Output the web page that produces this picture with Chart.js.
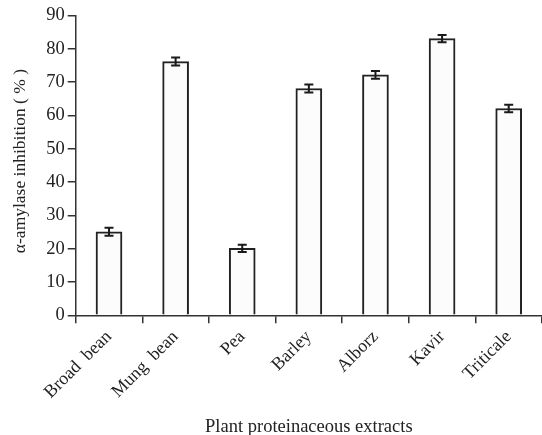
<!DOCTYPE html>
<html>
<head>
<meta charset="utf-8">
<script src="https://cdn.jsdelivr.net/npm/chart.js@4/dist/chart.umd.min.js"></script>
<style>
  html, body { margin: 0; padding: 0; background: #ffffff; }
  #wrap { width: 542px; height: 435px; position: relative; }
</style>
</head>
<body>
<div id="wrap"><canvas id="c"></canvas></div>
<script>
// Plant extracts and their alpha-amylase inhibition (%), mean ± error
const categories = ['Broad  bean', 'Mung  bean', 'Pea', 'Barley', 'Alborz', 'Kavir', 'Triticale'];
const inhibition = [25.1, 76.2, 20.1, 68.1, 72.2, 83.1, 62.1];
const errors = [1.2, 1.2, 1.1, 1.2, 1.2, 1.1, 1.1];
const yTicks = [0, 10, 20, 30, 40, 50, 60, 70, 80, 90];

const FONT = "'Liberation Serif', 'Times New Roman', serif";
const INK = '#222222';
const AXIS = '#333333';

// Draws the ± error whiskers with caps on top of each bar
const errorBars = {
  id: 'errorBars',
  afterDatasetsDraw(chart) {
    const meta = chart.getDatasetMeta(0);
    const y = chart.scales.y;
    const ctx = chart.ctx;
    ctx.save();
    ctx.strokeStyle = '#1a1a1a';
    ctx.lineWidth = 2;
    meta.data.forEach((bar, i) => {
      const v = inhibition[i], e = errors[i];
      const yHi = y.getPixelForValue(v + e);
      const yLo = y.getPixelForValue(v - e);
      const x = bar.x, hw = 4.5;
      ctx.beginPath();
      ctx.moveTo(x, yHi); ctx.lineTo(x, yLo);
      ctx.moveTo(x - hw, yHi); ctx.lineTo(x + hw, yHi);
      ctx.moveTo(x - hw, yLo); ctx.lineTo(x + hw, yLo);
      ctx.stroke();
    });
    ctx.restore();
  }
};

new Chart(document.getElementById('c'), {
  type: 'bar',
  data: {
    labels: categories,
    datasets: [{
      data: inhibition,
      backgroundColor: '#fcfcfc',
      borderColor: INK,
      borderWidth: 2,
      borderSkipped: 'start',
      barThickness: 26
    }]
  },
  options: {
    responsive: true,
    maintainAspectRatio: false,
    animation: false,
    layout: { padding: { top: 15.6, right: 0, bottom: 0, left: 0 } },
    plugins: { legend: { display: false }, tooltip: { enabled: false } },
    scales: {
      x: {
        offset: true,
        grid: { offset: true, drawOnChartArea: false, drawTicks: true, tickLength: 8, color: AXIS, lineWidth: 1.5 },
        border: { display: true, color: AXIS, width: 1.5 },
        ticks: { color: INK, font: { family: FONT, size: 18 }, minRotation: 45, maxRotation: 45, padding: 3, autoSkip: false },
        title: { display: true, text: 'Plant proteinaceous extracts', color: INK, font: { family: FONT, size: 18.5 }, padding: { top: 0, bottom: -3.5 } },
        afterFit(s) { s.height = 119.7; s.paddingLeft = 0; s.paddingRight = 0; }
      },
      y: {
        min: 0, max: 90,
        afterBuildTicks(s) { s.ticks = yTicks.map(v => ({ value: v })); },
        grid: { drawOnChartArea: false, drawTicks: true, tickLength: 8, color: AXIS, lineWidth: 1.5 },
        border: { display: true, color: AXIS, width: 1.5 },
        ticks: { color: INK, font: { family: FONT, size: 18.5 }, padding: 3 },
        title: { display: true, text: '  α-amylase inhibition ( % )', color: INK, font: { family: FONT, size: 17.5 }, padding: { top: 10, bottom: 0 } },
        afterFit(s) { s.width = 75.7; s.paddingTop = 0; s.paddingBottom = 0; }
      }
    }
  },
  plugins: [errorBars]
});
</script>
</body>
</html>
